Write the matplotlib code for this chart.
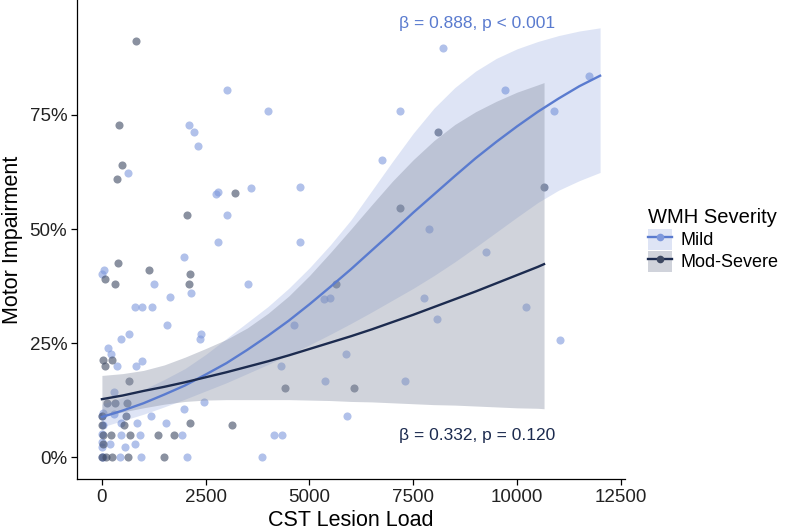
import matplotlib.pyplot as plt
from matplotlib.lines import Line2D
from matplotlib.patches import Patch
from matplotlib.ticker import FuncFormatter

plt.rcParams['font.family'] = ['Liberation Sans', 'DejaVu Sans']

# scatter points (x = lesion load, y = % impairment)
mild_x = [3002, 4009, 7180, 2101, 2230, 2311, 636, 6754, 2740, 2800, 3591, 4782,
          3002, 2794, 4782, 8228, 9708, 11744, 10899, 7873, 9250, 7760, 8083, 10208,
          11030, 7310, 48, 0, 1973, 2157, 1263, 3519, 5345, 5498, 1650, 797, 958,
          1200, 1570, 4620, 660, 451, 2391, 2359, 145, 217, 354, 974, 821, 5868,
          4307, 5378, 282, 2471, 1980, 5900, 31, 0, 290, 1183, 853, 1553, 31, 459,
          459, 918, 1932, 4154, 4330, 200, 805, 563, 435, 935, 2045, 3857,
          0, 0, 0, 20, 0]
mild_y = [80.4, 75.9, 75.9, 72.8, 71.3, 68.3, 62.2, 65.1, 57.7, 58.1, 59.0, 59.1,
          53.1, 47.1, 47.1, 89.6, 80.5, 83.6, 75.9, 50.1, 45.0, 34.8, 30.3, 33.0,
          25.7, 16.6, 41.0, 40.1, 43.9, 36.0, 38.0, 38.0, 34.7, 34.9, 35.0, 33.0, 33.0,
          33.0, 28.9, 28.9, 26.9, 25.8, 26.9, 25.9, 24.0, 22.7, 20.0, 21.1, 20.0, 22.6,
          19.9, 16.7, 14.3, 12.1, 10.5, 9.1, 9.6, 9.1, 9.4, 9.1, 7.5, 7.5, 7.0, 7.5,
          4.8, 4.8, 4.8, 4.8, 4.8, 2.9, 2.9, 2.3, 0, 0, 0, 0,
          2.3, 3.4, 5.0, 0, 0]

mod_x = [829, 411, 491, 354, 3205, 2045, 7180, 8098, 10650, 386, 80, 1135, 2125,
         2109, 314, 5627, 24, 249, 72, 4403, 6078, 660, 121, 306, 604, 572, 531,
         2133, 3123, 17, 217, 669, 1352, 1739, 0, 97, 242, 620, 1490, 17, 0, 0]
mod_y = [91.3, 72.8, 64.0, 61.0, 58.0, 53.1, 54.5, 71.3, 59.1, 42.5, 39.0, 41.0, 40.1,
         37.9, 37.9, 38.0, 21.2, 21.2, 19.9, 15.1, 15.1, 16.7, 11.8, 11.8, 11.8, 9.1, 7.0,
         7.5, 7.0, 4.8, 4.8, 4.8, 4.8, 4.8, 0, 0, 0, 0, 0, 2.9, 7.0, 9.1]

# fitted curves and confidence bands
mild_fx = [0, 500, 1000, 1500, 2000, 2500, 3000, 3500, 4000, 4500, 5000, 5500,
           6000, 6500, 7000, 7500, 8000, 8500, 9000, 9500, 10000, 10500, 11000,
           11500, 12000]
mild_fit = [8.8, 10.2, 11.8, 13.7, 15.7, 18.1, 20.6, 23.5, 26.6, 29.9, 33.5, 37.3,
            41.2, 45.3, 49.4, 53.6, 57.6, 61.6, 65.5, 69.1, 72.5, 75.7, 78.6, 81.3, 83.6]
mild_hi = [11.6, 13.1, 14.8, 17.0, 19.4, 22.5, 26.0, 29.5, 33.0, 37.0, 41.5, 46.5,
           52.0, 58.4, 64.8, 71.0, 76.5, 81.0, 84.6, 87.4, 89.5, 91.1, 92.4, 93.4, 94.1]
mild_lo = [6.6, 8.0, 9.4, 11.0, 12.7, 14.5, 16.3, 18.3, 20.3, 22.4, 24.6, 26.9,
           29.3, 31.8, 34.4, 37.0, 39.8, 42.8, 46.0, 49.3, 52.6, 55.8, 58.5, 60.6, 62.4]

mod_fx = [0, 500, 1000, 1500, 2000, 2500, 3000, 3500, 4000, 4500, 5000, 5500,
          6000, 6500, 7000, 7500, 8000, 8500, 9000, 9500, 10000, 10500, 10650]
mod_fit = [12.7, 13.5, 14.5, 15.4, 16.4, 17.5, 18.6, 19.8, 21.0, 22.3, 23.7, 25.1,
           26.5, 28.0, 29.6, 31.2, 32.9, 34.6, 36.3, 38.1, 39.9, 41.7, 42.3]
mod_hi = [17.9, 18.3, 19.0, 20.2, 21.9, 23.8, 25.8, 28.3, 31.5, 35.3, 39.8, 44.8,
          50.0, 55.3, 60.5, 65.2, 69.4, 72.9, 75.7, 78.0, 80.0, 81.6, 82.1]
mod_lo = [8.8, 9.9, 10.8, 11.6, 12.2, 12.5, 12.6, 12.6, 12.6, 12.6, 12.5, 12.4,
          12.2, 12.1, 11.9, 11.7, 11.5, 11.4, 11.2, 11.0, 10.8, 10.7, 10.6]

groups = ['Mild', 'Mod-Severe']
line_cols = ['#5a7bcf', '#1c2b4f']
point_cols = ['#7e98dc', '#3d4861']
band_cols = ['#5a7bcf', '#8a92a6']
band_alpha = [0.2, 0.4]

fig = plt.figure(figsize=(7.88, 5.31), dpi=100)
ax = fig.add_axes([77 / 788, 52 / 531, 548 / 788, 479 / 531])

ax.scatter(mild_x, mild_y, s=34, color=point_cols[0], alpha=0.6, linewidths=0, zorder=2)
ax.scatter(mod_x, mod_y, s=34, color=point_cols[1], alpha=0.6, linewidths=0, zorder=2)

ax.fill_between(mild_fx, mild_lo, mild_hi, color=band_cols[0], alpha=band_alpha[0], lw=0, zorder=3)
ax.fill_between(mod_fx, mod_lo, mod_hi, color=band_cols[1], alpha=band_alpha[1], lw=0, zorder=3)
ax.plot(mild_fx, mild_fit, color=line_cols[0], lw=1.7, zorder=4)
ax.plot(mod_fx, mod_fit, color=line_cols[1], lw=1.7, zorder=4)

ax.text(9032, 95.0, 'β = 0.888, p < 0.001', color=line_cols[0], fontsize=12.5,
        ha='center', va='center')
ax.text(9032, 4.8, 'β = 0.332, p = 0.120', color=line_cols[1], fontsize=12.5,
        ha='center', va='center')

ax.set_xlim(-600, 12600)
ax.set_ylim(-4.8, 100.2)
ax.set_xticks([0, 2500, 5000, 7500, 10000, 12500])
ax.set_yticks([0, 25, 50, 75])
ax.yaxis.set_major_formatter(FuncFormatter(lambda v, p: f'{v:.0f}%'))

for s in ['top', 'right']:
    ax.spines[s].set_visible(False)
for s in ['left', 'bottom']:
    ax.spines[s].set_linewidth(0.9)
ax.tick_params(length=4.5, width=0.9, color='black', labelsize=13.5,
               labelcolor='#222222', pad=2.5)
ax.set_xlabel('CST Lesion Load', fontsize=15.5, labelpad=3)
ax.set_ylabel('Motor Impairment', fontsize=15.5, labelpad=5)

handles = []
for i in range(2):
    bg = Patch(facecolor=band_cols[i], alpha=band_alpha[i], edgecolor='none')
    ln = Line2D([], [], color=line_cols[i], lw=1.7, marker='o', markersize=5.5,
                markerfacecolor=point_cols[i], markeredgewidth=0)
    handles.append((bg, ln))

fig.legend(handles, groups, title='WMH Severity', loc='center left',
           bbox_to_anchor=(639 / 788, 1 - 240 / 531), frameon=False, borderpad=0,
           fontsize=13, title_fontsize=14.5, handlelength=1.3, handleheight=1.35,
           handletextpad=0.5, labelspacing=0.1, alignment='left')

fig.savefig('out.png', dpi=100)
